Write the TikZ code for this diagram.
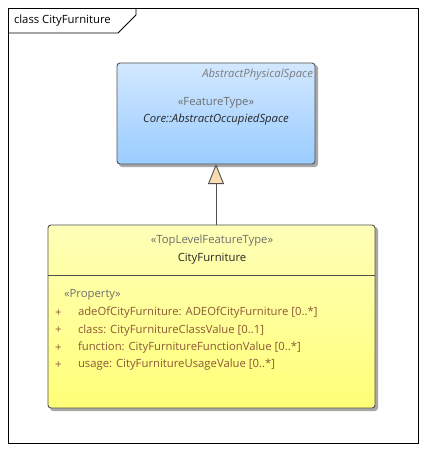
\documentclass[tikz,border=0pt]{standalone}
\usepackage{fontspec}
\setmainfont{Open Sans}
\usetikzlibrary{arrows.meta}
\definecolor{framec}{HTML}{000000}
\definecolor{boxline}{HTML}{505050}
\definecolor{bluetop}{HTML}{D2E8FF}
\definecolor{bluebot}{HTML}{9ACCFF}
\definecolor{yeltop}{HTML}{FFFFB8}
\definecolor{yelbot}{HTML}{FFFF78}
\definecolor{stereo}{HTML}{6E6E6E}
\definecolor{attrc}{HTML}{8C5737}
\definecolor{peach}{HTML}{F8DCB0}
\definecolor{shadowc}{HTML}{A8A8A8}
\tikzset{
  every node/.style={inner sep=0pt, outer sep=0pt, font=\fontsize{11.3}{13}\selectfont},
  umlbox/.style={draw=boxline, line width=0.9pt, rounded corners=3pt, anchor=north west},
  shadowbox/.style={fill=shadowc, rounded corners=3pt},
  stereotxt/.style={text=stereo},
  nametxt/.style={text=black!85},
  attrtxt/.style={text=attrc, anchor=west},
  genline/.style={draw=boxline, line width=0.9pt},
}
\begin{document}
\begin{tikzpicture}[x=1pt,y=-1pt]
\useasboundingbox (0,0) rectangle (426,452);
% frame
\draw[framec, line width=0.9pt] (8,8) rectangle (418,443);
\draw[framec, line width=0.9pt] (8,33) -- (118,33) -- (136,15) -- (136,8);
\node[anchor=west] (title) at (14,21) {class CityFurniture};
% shadows
\fill[shadowbox] (119,65) rectangle (318,167);
\fill[shadowbox] (50,227) rectangle (378,411);
% blue box
\node[umlbox, top color=bluetop, bottom color=bluebot, minimum width=198pt, minimum height=101pt] (blue) at (117,63) {};
\node[anchor=east, text=stereo!90] (bl1) at (313,75) {\itshape AbstractPhysicalSpace};
\node[stereotxt] (bl2) at (216,103) {«FeatureType»};
\node[nametxt] (bl3) at (216,120) {\itshape Core::AbstractOccupiedSpace};
% yellow box
\node[umlbox, top color=yeltop, bottom color=yelbot, minimum width=327pt, minimum height=183pt] (yel) at (48,225) {};
\draw[boxline, line width=0.9pt] (yel.north west |- 0,275) -- (yel.north east |- 0,275);
\node[stereotxt] (y1) at (212,241) {«TopLevelFeatureType»};
\node[nametxt] (y2) at (212,259) {CityFurniture};
\node[stereotxt, anchor=west] (y3) at (64,295) {«Property»};
\node[attrtxt] (p1) at (55,313) {+};
\node[attrtxt] (a1) at (78,313) {adeOfCityFurniture: ADEOfCityFurniture [0..*]};
\node[attrtxt] (p2) at (55,330.5) {+};
\node[attrtxt] (a2) at (78,330.5) {class: CityFurnitureClassValue [0..1]};
\node[attrtxt] (p3) at (55,348) {+};
\node[attrtxt] (a3) at (78,348) {function: CityFurnitureFunctionValue [0..*]};
\node[attrtxt] (p4) at (55,365) {+};
\node[attrtxt] (a4) at (78,365) {usage: CityFurnitureUsageValue [0..*]};
% generalization
\draw[genline, -{Triangle[width=16pt, length=20pt, fill=peach, line width=0.9pt]}] (blue.south |- yel.north) -- (blue.south);
\end{tikzpicture}
\end{document}
